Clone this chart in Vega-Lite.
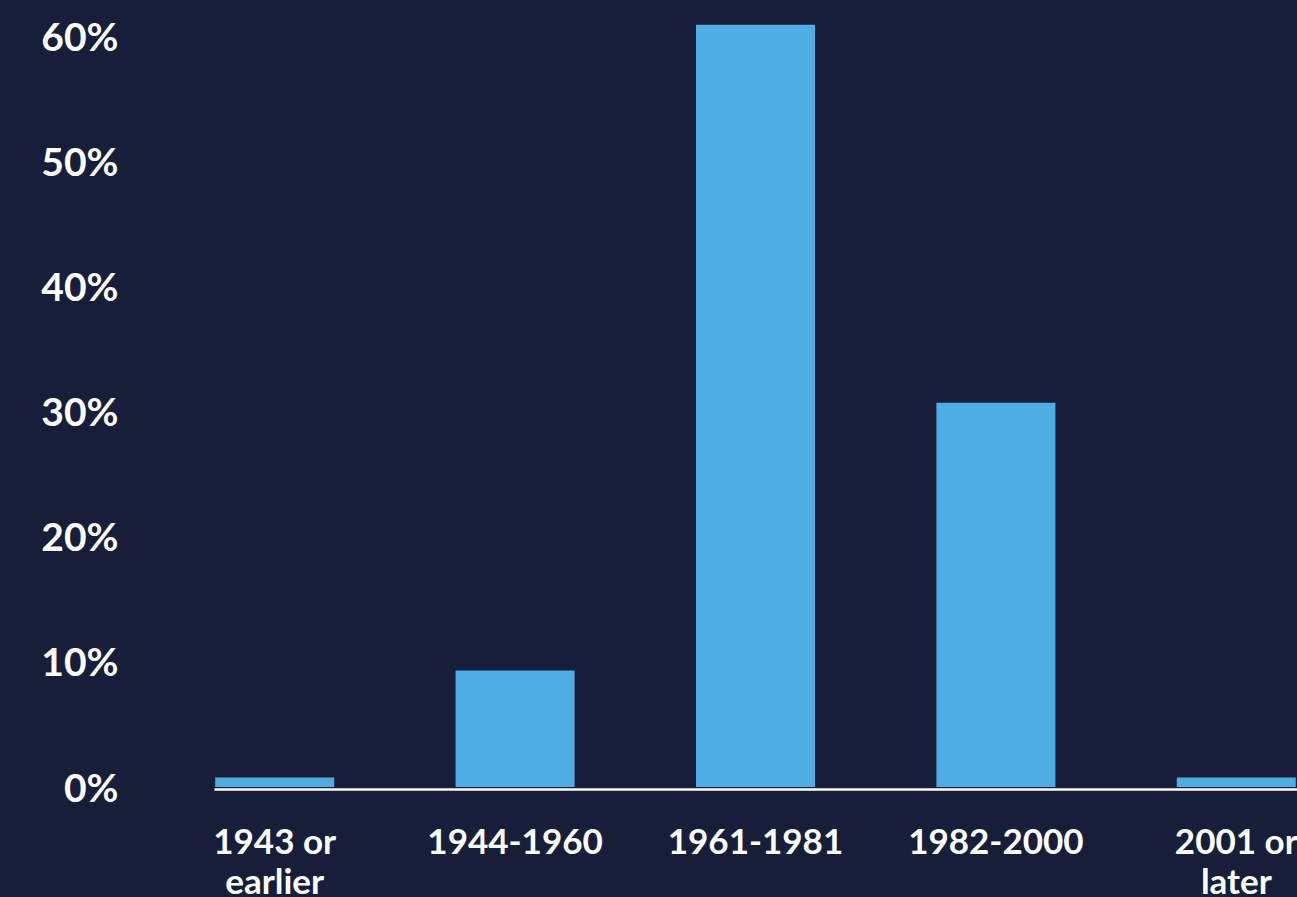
{
  "$schema": "https://vega.github.io/schema/vega-lite/v6.json",
  "width": 1083,
  "height": 776,
  "autosize": "none",
  "padding": {"left": 214, "top": 11, "right": 0, "bottom": 110},
  "background": "#161e3a",
  "config": {
    "view": {"stroke": null},
    "font": "Lato"
  },
  "data": {
    "values": [
      {"generation": "1943 or earlier", "share": 0.0075},
      {"generation": "1944-1960", "share": 0.093},
      {"generation": "1961-1981", "share": 0.609},
      {"generation": "1982-2000", "share": 0.307},
      {"generation": "2001 or later", "share": 0.0075}
    ]
  },
  "mark": {"type": "bar", "color": "#4faee1"},
  "encoding": {
    "x": {
      "field": "generation",
      "type": "nominal",
      "sort": null,
      "scale": {"paddingInner": 0.505, "paddingOuter": 0.005},
      "axis": {
        "title": null,
        "labelAngle": 0,
        "labelFont": "Lato",
        "labelFontWeight": "bold",
        "labelFontSize": 35,
        "labelColor": "#ffffff",
        "labelPadding": 36,
        "labelLineHeight": 40,
        "labelOverlap": false,
        "labelBound": false,
        "labelFlush": false,
        "labelLimit": 0,
        "labelExpr": "datum.label == '1943 or earlier' ? ['1943 or', 'earlier'] : datum.label == '2001 or later' ? ['2001 or', 'later'] : datum.label",
        "ticks": false,
        "offset": 2,
        "domainColor": "#ffffff",
        "domainWidth": 2.5
      }
    },
    "y": {
      "field": "share",
      "type": "quantitative",
      "scale": {"domain": [0, 0.62], "nice": false},
      "axis": {
        "title": null,
        "values": [0, 0.1, 0.2, 0.3, 0.4, 0.5, 0.6],
        "format": ".0%",
        "labelFont": "Lato",
        "labelFontWeight": "bold",
        "labelFontSize": 39,
        "labelColor": "#ffffff",
        "labelPadding": 96,
        "labelBaseline": "middle",
        "labelOffset": 2,
        "ticks": false,
        "domain": false,
        "grid": false
      }
    }
  }
}
